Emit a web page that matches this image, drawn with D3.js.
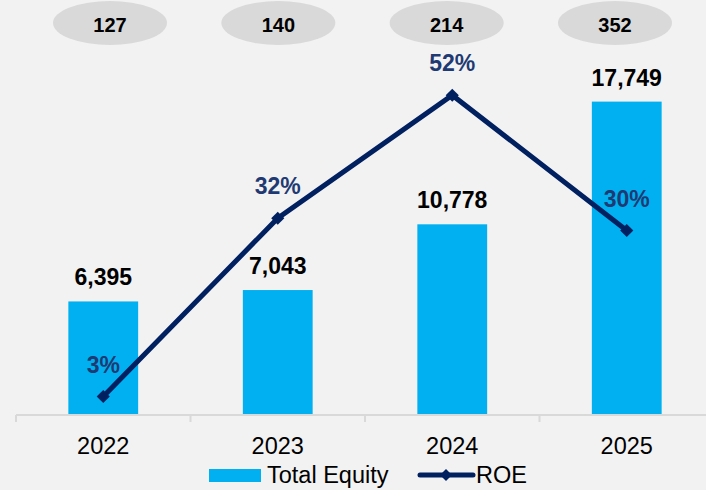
<!DOCTYPE html>
<html>
<head>
<meta charset="utf-8">
<script src="https://cdn.jsdelivr.net/npm/d3@7"></script>
<style>
  body { margin: 0; background: #f2f2f2; }
  svg { display: block; font-family: Arial, "Liberation Sans", sans-serif; }
</style>
</head>
<body>
<div id="chart"></div>
<script>
var years = ['2022', '2023', '2024', '2025'];
var total_equity = [6395, 7043, 10778, 17749];
var roe = [3, 32, 52, 30];
var top_values = [127, 140, 214, 352];

var width = 706, height = 490;
var baseline = 414;

var svg = d3.select('#chart').append('svg')
    .attr('width', width).attr('height', height);

svg.append('rect').attr('width', width).attr('height', height).attr('fill', '#f2f2f2');

var x = d3.scaleBand().domain(years).range([16, 714])
    .paddingInner(0.6).paddingOuter(0.3);
var y = d3.scaleLinear().domain([0, 20000]).range([baseline, 62]);
var y_roe = d3.scaleLinear().domain([0, 60]).range([baseline + 1, 46]);
// the grey bubbles on top are not quite aligned with the bars
var x_top = d3.scalePoint().domain(years).range([110, 615]);

// axis
var axis = svg.append('g').attr('transform', 'translate(0,' + (baseline + 1) + ')');
axis.append('line').attr('x1', 16).attr('x2', width).attr('stroke', '#d9d9d9').attr('stroke-width', 2);
axis.selectAll('.tick-mark').data(years.concat(['end']))
  .enter().append('line')
    .attr('x1', function(d, i){ return 16 + i * x.step(); })
    .attr('x2', function(d, i){ return 16 + i * x.step(); })
    .attr('y1', 0).attr('y2', 7)
    .attr('stroke', '#d9d9d9').attr('stroke-width', 2);

svg.selectAll('.year').data(years).enter().append('text')
    .attr('x', function(d){ return x(d) + x.bandwidth() / 2; })
    .attr('y', 454)
    .attr('text-anchor', 'middle')
    .attr('font-size', 23.5)
    .attr('fill', '#000')
    .text(function(d){ return d; });

// bars
svg.selectAll('.bar').data(total_equity).enter().append('rect')
    .attr('x', function(d, i){ return x(years[i]); })
    .attr('y', function(d){ return y(d); })
    .attr('width', x.bandwidth())
    .attr('height', function(d){ return baseline - y(d); })
    .attr('fill', '#00b0f0');

svg.selectAll('.bar-label').data(total_equity).enter().append('text')
    .attr('x', function(d, i){ return x(years[i]) + x.bandwidth() / 2; })
    .attr('y', function(d){ return y(d) - 16; })
    .attr('text-anchor', 'middle')
    .attr('font-size', 23).attr('font-weight', 'bold')
    .attr('fill', '#000')
    .text(function(d){ return d3.format(',')(d); });

// ROE line
var line = d3.line()
    .x(function(d, i){ return x(years[i]) + x.bandwidth() / 2; })
    .y(function(d){ return y_roe(d); });

svg.append('path').datum(roe)
    .attr('d', line)
    .attr('fill', 'none')
    .attr('stroke', '#002060')
    .attr('stroke-width', 5);

svg.selectAll('.roe-pt').data(roe).enter().append('path')
    .attr('d', d3.symbol().type(d3.symbolDiamond2).size(110))
    .attr('transform', function(d, i){
      return 'translate(' + (x(years[i]) + x.bandwidth() / 2) + ',' + y_roe(d) + ')';
    })
    .attr('fill', '#002060');

svg.selectAll('.roe-label').data(roe).enter().append('text')
    .attr('x', function(d, i){ return x(years[i]) + x.bandwidth() / 2; })
    .attr('y', function(d){ return y_roe(d) - 24; })
    .attr('text-anchor', 'middle')
    .attr('font-size', 23).attr('font-weight', 'bold')
    .attr('fill', '#1f3a73')
    .text(function(d){ return d + '%'; });

// top bubbles
var bubbles = svg.selectAll('.bubble').data(top_values).enter().append('g')
    .attr('transform', function(d, i){ return 'translate(' + x_top(years[i]) + ',23)'; });
bubbles.append('ellipse').attr('rx', 57).attr('ry', 22).attr('fill', '#d9d9d9');
bubbles.append('text')
    .attr('y', 8.5)
    .attr('text-anchor', 'middle')
    .attr('font-size', 20).attr('font-weight', 'bold')
    .attr('fill', '#000')
    .text(function(d){ return d; });

// legend
var legend = svg.append('g');
legend.append('rect').attr('x', 209).attr('y', 469).attr('width', 52).attr('height', 13).attr('fill', '#00b0f0');
legend.append('text').attr('x', 267).attr('y', 483).attr('font-size', 23.5).text('Total Equity');
legend.append('line').attr('x1', 420).attr('x2', 473).attr('y1', 475).attr('y2', 475)
    .attr('stroke', '#002060').attr('stroke-width', 5).attr('stroke-linecap', 'round');
legend.append('path').attr('d', d3.symbol().type(d3.symbolDiamond2).size(90))
    .attr('transform', 'translate(446,475)').attr('fill', '#002060');
legend.append('text').attr('x', 476).attr('y', 483).attr('font-size', 23.5).text('ROE');
</script>
</body>
</html>
